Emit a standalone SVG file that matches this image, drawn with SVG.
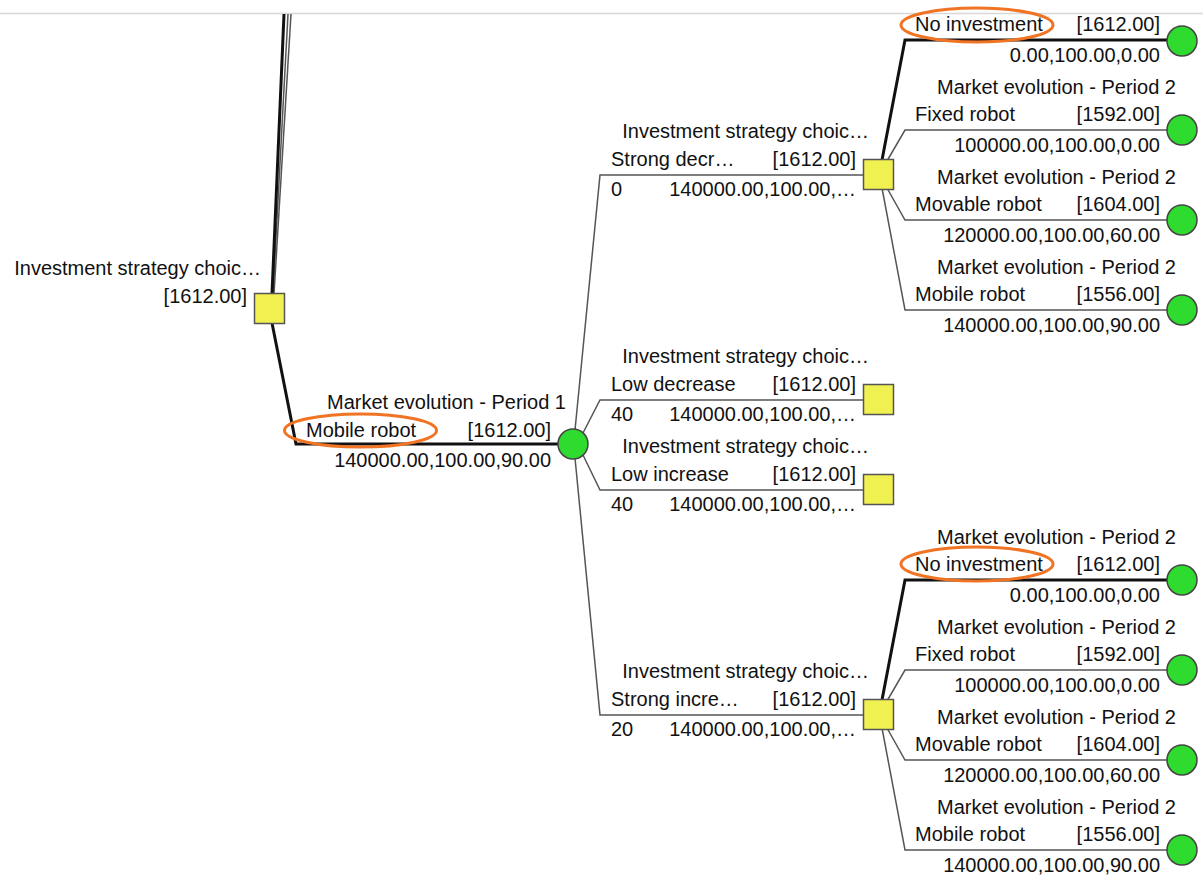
<svg xmlns="http://www.w3.org/2000/svg" width="1203" height="877" viewBox="0 0 1203 877">
<style>
text{font-family:"Liberation Sans",Arial,sans-serif;font-size:20px;fill:#111}
.e{text-anchor:end}
.thin{stroke:#555;stroke-width:1.5;fill:none}
.thick{stroke:#111;stroke-width:3;fill:none}
.dec{fill:#F0F050;stroke:#555;stroke-width:1.5}
.ch{fill:#2EDB2E;stroke:#444;stroke-width:1.5}
.hl{fill:none;stroke:#F07424;stroke-width:3}
</style>
<rect width="1203" height="877" fill="#fff"/>
<line x1="0" y1="13.5" x2="1203" y2="13.5" stroke="#d8d8d8" stroke-width="1.5"/>
<g id="connectors">
<path class="thin" d="M291 14 L274 294"/>
<path class="thin" d="M288 14 L273 294"/>
<path class="thick" d="M284 14 L272 294"/>
<path class="thick" d="M272 323 L296 444 L560 444"/>
<path class="thin" d="M575 430 L600 175 L864 175"/>
<path class="thin" d="M583 433 L600 400 L864 400"/>
<path class="thin" d="M583 455 L600 490 L864 490"/>
<path class="thin" d="M575 458 L600 715 L864 715"/>
<path class="thin" d="M887 161 L905 130 L1168 130"/>
<path class="thin" d="M887 188 L905 220 L1168 220"/>
<path class="thin" d="M882 188 L905 310 L1168 310"/>
<path class="thick" d="M882 160 L905 40 L1168 40"/>
<path class="thin" d="M887 701 L905 670 L1168 670"/>
<path class="thin" d="M887 728 L905 760 L1168 760"/>
<path class="thin" d="M882 728 L905 850 L1168 850"/>
<path class="thick" d="M882 700 L905 580 L1168 580"/>
</g>
<g id="root">
<rect class="dec" x="254.5" y="293.5" width="30" height="30"/>
<text class="e" x="261" y="275">Investment strategy choic…</text>
<text class="e" x="247" y="303">[1612.00]</text>
</g>
<g id="chance1">
<circle class="ch" cx="573" cy="444" r="15"/>
<text class="e" x="566" y="409">Market evolution - Period 1</text>
<text x="306" y="437">Mobile robot</text>
<text class="e" x="551" y="437">[1612.00]</text>
<text class="e" x="551" y="467">140000.00,100.00,90.00</text>
<ellipse class="hl" cx="360.5" cy="430.5" rx="76" ry="16.5"/>
</g>
<g id="dec-strong-decr">
<rect class="dec" x="863.5" y="159.5" width="30" height="30"/>
<text class="e" x="869" y="138">Investment strategy choic…</text>
<text x="611" y="166">Strong decr…</text>
<text class="e" x="856" y="166">[1612.00]</text>
<text x="611" y="196">0</text>
<text class="e" x="856" y="196">140000.00,100.00,…</text>
</g>
<g id="dec-low-decrease">
<rect class="dec" x="863.5" y="384.5" width="30" height="30"/>
<text class="e" x="869" y="363">Investment strategy choic…</text>
<text x="611" y="391">Low decrease</text>
<text class="e" x="856" y="391">[1612.00]</text>
<text x="611" y="421">40</text>
<text class="e" x="856" y="421">140000.00,100.00,…</text>
</g>
<g id="dec-low-increase">
<rect class="dec" x="863.5" y="474.5" width="30" height="30"/>
<text class="e" x="869" y="453">Investment strategy choic…</text>
<text x="611" y="481">Low increase</text>
<text class="e" x="856" y="481">[1612.00]</text>
<text x="611" y="511">40</text>
<text class="e" x="856" y="511">140000.00,100.00,…</text>
</g>
<g id="dec-strong-incre">
<rect class="dec" x="863.5" y="699.5" width="30" height="30"/>
<text class="e" x="869" y="678">Investment strategy choic…</text>
<text x="611" y="706">Strong incre…</text>
<text class="e" x="856" y="706">[1612.00]</text>
<text x="611" y="736">20</text>
<text class="e" x="856" y="736">140000.00,100.00,…</text>
</g>
<g id="t1-no-investment">
<circle class="ch" cx="1182" cy="41" r="15"/>
<text x="915" y="31">No investment</text>
<text class="e" x="1160" y="31">[1612.00]</text>
<text class="e" x="1160" y="62">0.00,100.00,0.00</text>
<ellipse class="hl" cx="977" cy="25" rx="76" ry="17"/>
</g>
<g id="t1-fixed">
<circle class="ch" cx="1182" cy="130" r="15"/>
<text class="e" x="1176" y="94">Market evolution - Period 2</text>
<text x="915" y="121">Fixed robot</text>
<text class="e" x="1160" y="121">[1592.00]</text>
<text class="e" x="1160" y="152">100000.00,100.00,0.00</text>
</g>
<g id="t1-movable">
<circle class="ch" cx="1182" cy="220" r="15"/>
<text class="e" x="1176" y="184">Market evolution - Period 2</text>
<text x="915" y="211">Movable robot</text>
<text class="e" x="1160" y="211">[1604.00]</text>
<text class="e" x="1160" y="242">120000.00,100.00,60.00</text>
</g>
<g id="t1-mobile">
<circle class="ch" cx="1182" cy="310" r="15"/>
<text class="e" x="1176" y="274">Market evolution - Period 2</text>
<text x="915" y="301">Mobile robot</text>
<text class="e" x="1160" y="301">[1556.00]</text>
<text class="e" x="1160" y="332">140000.00,100.00,90.00</text>
</g>
<g id="t2-no-investment">
<circle class="ch" cx="1182" cy="580" r="15"/>
<text class="e" x="1176" y="544">Market evolution - Period 2</text>
<text x="915" y="571">No investment</text>
<text class="e" x="1160" y="571">[1612.00]</text>
<text class="e" x="1160" y="602">0.00,100.00,0.00</text>
<ellipse class="hl" cx="977" cy="564" rx="76" ry="17"/>
</g>
<g id="t2-fixed">
<circle class="ch" cx="1182" cy="670" r="15"/>
<text class="e" x="1176" y="634">Market evolution - Period 2</text>
<text x="915" y="661">Fixed robot</text>
<text class="e" x="1160" y="661">[1592.00]</text>
<text class="e" x="1160" y="692">100000.00,100.00,0.00</text>
</g>
<g id="t2-movable">
<circle class="ch" cx="1182" cy="760" r="15"/>
<text class="e" x="1176" y="724">Market evolution - Period 2</text>
<text x="915" y="751">Movable robot</text>
<text class="e" x="1160" y="751">[1604.00]</text>
<text class="e" x="1160" y="782">120000.00,100.00,60.00</text>
</g>
<g id="t2-mobile">
<circle class="ch" cx="1182" cy="850" r="15"/>
<text class="e" x="1176" y="814">Market evolution - Period 2</text>
<text x="915" y="841">Mobile robot</text>
<text class="e" x="1160" y="841">[1556.00]</text>
<text class="e" x="1160" y="872">140000.00,100.00,90.00</text>
</g>
</svg>
